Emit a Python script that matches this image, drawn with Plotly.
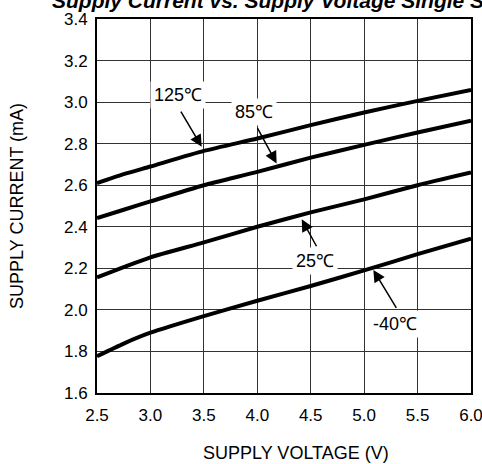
import plotly.graph_objects as go

voltage = [2.5, 2.75, 3.0, 3.5, 4.0, 4.5, 5.0, 5.5, 6.0]
i_125 = [2.61, 2.653, 2.69, 2.765, 2.825, 2.889, 2.950, 3.006, 3.059]
i_85 = [2.442, 2.482, 2.522, 2.60, 2.664, 2.733, 2.794, 2.854, 2.91]
i_25 = [2.157, 2.206, 2.253, 2.325, 2.40, 2.469, 2.532, 2.60, 2.661]
i_m40 = [1.777, 1.838, 1.89, 1.97, 2.044, 2.115, 2.190, 2.268, 2.343]

x_ticks = [2.5, 3.0, 3.5, 4.0, 4.5, 5.0, 5.5, 6.0]
y_ticks = [1.6, 1.8, 2.0, 2.2, 2.4, 2.6, 2.8, 3.0, 3.2, 3.4]

# label: (text, text_x, text_y, tail_x, tail_y, head_x, head_y)
labels = [
    ("125℃", 3.258, 3.034, 3.277, 2.962, 3.48, 2.785),
    ("85℃", 3.969, 2.952, 3.994, 2.882, 4.181, 2.705),
    ("25℃", 4.540, 2.233, 4.562, 2.299, 4.416, 2.436),
    ("-40℃", 5.293, 1.930, 5.310, 2.003, 5.086, 2.192),
]

FONT = "Liberation Sans, Arial, sans-serif"

fig = go.Figure()
for ys in [i_125, i_85, i_25, i_m40]:
    fig.add_trace(go.Scatter(x=voltage, y=ys, mode="lines",
                             line=dict(color="black", width=4, shape="spline", smoothing=0.6),
                             showlegend=False, hoverinfo="skip"))

annotations = []
for text, tx, ty, ax_, ay_, hx, hy in labels:
    annotations.append(dict(x=hx, y=hy, ax=ax_, ay=ay_, xref="x", yref="y", axref="x", ayref="y",
                            text="", showarrow=True, arrowhead=2, arrowsize=1.6, arrowwidth=1.5,
                            arrowcolor="black"))
    annotations.append(dict(x=tx, y=ty, xref="x", yref="y", text=text, showarrow=False,
                            bgcolor="white", borderpad=3,
                            font=dict(family=FONT, size=18, color="black")))

annotations.append(dict(x=-0.126, y=1.013, xref="paper", yref="paper", xanchor="left", yanchor="bottom",
                        text="Supply Current vs. Supply Voltage Single Supply", showarrow=False,
                        font=dict(family=FONT, size=21, color="black", weight="bold", style="italic")))
annotations.append(dict(x=0.532, y=-0.160, xref="paper", yref="paper", xanchor="center", yanchor="middle",
                        text="SUPPLY VOLTAGE (V)", showarrow=False,
                        font=dict(family=FONT, size=18, color="black")))
annotations.append(dict(x=-0.214, y=0.5, xref="paper", yref="paper", xanchor="center", yanchor="middle",
                        text="SUPPLY CURRENT (mA)", showarrow=False, textangle=-90,
                        font=dict(family=FONT, size=18, color="black")))

fig.update_layout(
    width=482, height=464,
    margin=dict(l=97, r=11, t=19, b=71, autoexpand=False),
    paper_bgcolor="white", plot_bgcolor="white",
    annotations=annotations,
    font=dict(family=FONT, size=17, color="black"),
)
fig.update_xaxes(range=[2.5, 6.0], tickmode="array", tickvals=x_ticks,
                 ticktext=[f"{v:.1f}" for v in x_ticks], automargin=False,
                 ticklabeloverflow="allow",
                 showgrid=True, gridcolor="#333333", gridwidth=1.3, zeroline=False,
                 showline=True, linecolor="black", linewidth=2, mirror=True,
                 ticks="outside", ticklen=6, tickcolor="rgba(0,0,0,0)", tickfont=dict(size=17))
fig.update_yaxes(range=[1.6, 3.4], tickmode="array", tickvals=y_ticks,
                 ticktext=[f"{v:.1f}" for v in y_ticks], automargin=False,
                 ticklabeloverflow="allow",
                 showgrid=True, gridcolor="#333333", gridwidth=1.3, zeroline=False,
                 showline=True, linecolor="black", linewidth=2, mirror=True,
                 ticks="outside", ticklen=4, tickcolor="rgba(0,0,0,0)", tickfont=dict(size=17))

fig.write_html("out.html", config={"displayModeBar": False},
               post_script="document.body.style.margin='0';")
